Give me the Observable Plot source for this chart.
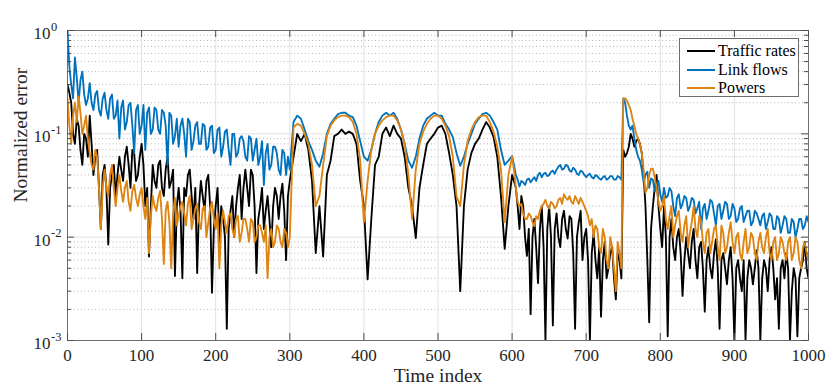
<!DOCTYPE html>
<html><head><meta charset="utf-8">
<script src="https://cdn.jsdelivr.net/npm/d3@7"></script>
<script src="https://cdn.jsdelivr.net/npm/@observablehq/plot@0.6"></script>
<style>
body{margin:0;background:#fff;}
#wrap{position:relative;width:830px;height:389px;font-family:"Liberation Serif","Tinos","Times New Roman",serif;}
#wrap svg text{font-family:"Liberation Serif","Tinos","Times New Roman",serif;}
#legend{position:absolute;left:679px;top:38px;width:120px;height:59px;border:1px solid #6e6e6e;background:#fff;box-sizing:border-box;}
.row{position:absolute;left:0;height:18px;display:flex;align-items:center;font-size:16px;color:#000;white-space:nowrap;}
.sw{display:inline-block;width:28px;height:0;border-top:2px solid;margin-left:7px;margin-right:3px;}
</style></head><body><div id="wrap"></div>
<script>
const seriesNames = ["Traffic rates", "Link flows", "Powers"];
const seriesColors = ["#000000", "#0072BD", "#DD8411"];
const timeIndex = d3.range(0, 1001, 5);
const midTimes = [...d3.range(2.5, 300, 5), ...d3.range(602.5, 1000, 5)];
const xTicks = [0, 100, 200, 300, 400, 500, 600, 700, 800, 900, 1000];
const yMajor = [0.001, 0.01, 0.1, 1];
const yExponents = ["-3", "-2", "-1", "0"];
const yMinor = [0.002,0.003,0.004,0.005,0.006,0.007,0.008,0.009,
                0.02,0.03,0.04,0.05,0.06,0.07,0.08,0.09,
                0.2,0.3,0.4,0.5,0.6,0.7,0.8,0.9];
const xLabel = "Time index";
const yLabel = "Normalized error";

// values at t = 0, 5, 10, ..., 1000
const trafficRates = [
0.3,0.2,0.08,0.12,0.05,0.09,0.15,0.04,0.07,0.012,0.05,0.0085,0.04,0.025,0.06,0.035,0.075,0.03,0.065,0.04,
0.08,0.02,0.0065,0.05,0.03,0.055,0.025,0.06,0.035,0.0042,0.03,0.004,0.025,0.045,0.015,0.0045,0.035,0.018,0.04,0.0029,
0.02,0.009,0.015,0.0013,0.018,0.01,0.03,0.015,0.045,0.02,0.04,0.0045,0.02,0.012,0.025,0.008,0.03,0.015,0.033,0.006,
0.035,0.06,0.1,0.085,0.1,0.07,0.035,0.007,0.02,0.0065,0.04,0.055,0.095,0.1,0.11,0.1,0.105,0.1,0.08,0.035,
0.02,0.0039,0.015,0.05,0.06,0.1,0.115,0.095,0.12,0.1,0.09,0.06,0.03,0.02,0.0098,0.03,0.05,0.08,0.09,0.1,
0.115,0.12,0.1,0.065,0.04,0.02,0.003,0.02,0.045,0.065,0.08,0.09,0.11,0.13,0.115,0.093,0.06,0.025,0.0077,0.02,
0.04,0.03,0.012,0.02,0.0066,0.0018,0.015,0.0036,0.02,0.001,0.02,0.0014,0.017,0.008,0.018,0.0097,0.015,0.0013,0.014,0.006,
0.012,0.001,0.011,0.004,0.0017,0.009,0.005,0.008,0.0025,0.006,0.07,0.065,0.1,0.075,0.09,0.065,0.02,0.0015,0.02,0.04,
0.012,0.02,0.0011,0.015,0.006,0.012,0.0027,0.01,0.005,0.012,0.004,0.009,0.0019,0.008,0.004,0.0095,0.0013,0.007,0.0035,0.008,
0.001,0.006,0.003,0.001,0.006,0.0035,0.0075,0.001,0.006,0.003,0.008,0.0025,0.0013,0.006,0.007,0.001,0.005,0.0011,0.005,0.009,
0.004];
// values at t = 2.5 ... 297.5 and 602.5 ... 997.5
const trafficRatesMid = [
0.25,0.1,0.14,0.07,0.1,0.06,0.08,0.06,0.03,0.04,0.03,0.03,0.05,0.04,0.045,0.06,0.05,0.07,0.035,0.06,
0.05,0.03,0.02,0.035,0.05,0.03,0.045,0.03,0.045,0.02,0.018,0.03,0.04,0.025,0.03,0.02,0.025,0.035,0.02,0.012,
0.03,0.02,0.01,0.012,0.025,0.02,0.04,0.03,0.03,0.045,0.02,0.015,0.03,0.018,0.015,0.02,0.025,0.025,0.018,0.025,
0.035,0.02,0.025,0.01,0.012,0.01,0.008,0.012,0.008,0.012,0.01,0.012,0.01,0.015,0.012,0.016,0.007,0.01,0.018,0.01,
0.006,0.007,0.006,0.008,0.006,0.004,0.007,0.004,0.007,0.004,0.06,0.075,0.09,0.085,0.08,0.04,0.006,0.012,0.03,0.02,
0.008,0.01,0.01,0.008,0.01,0.007,0.006,0.007,0.009,0.006,0.008,0.005,0.006,0.005,0.007,0.005,0.006,0.005,0.006,0.004,
0.005,0.004,0.006,0.004,0.005,0.005,0.005,0.004,0.005,0.006,0.005,0.004,0.005,0.004,0.005,0.003,0.004,0.004,0.006,0.005];

const linkFlows = [
1.0,0.3,0.55,0.2,0.4,0.19,0.31,0.17,0.26,0.15,0.25,0.14,0.24,0.15,0.09,0.21,0.13,0.2,0.065,0.19,
0.12,0.07,0.18,0.11,0.17,0.1,0.16,0.05,0.15,0.095,0.075,0.14,0.06,0.13,0.085,0.13,0.08,0.12,0.075,0.12,
0.07,0.115,0.075,0.11,0.05,0.1,0.065,0.095,0.06,0.095,0.055,0.09,0.06,0.032,0.08,0.05,0.075,0.045,0.07,0.04,
0.045,0.13,0.15,0.14,0.11,0.085,0.07,0.055,0.048,0.065,0.1,0.125,0.14,0.155,0.16,0.16,0.15,0.145,0.12,0.085,
0.06,0.055,0.07,0.1,0.13,0.15,0.16,0.15,0.16,0.14,0.11,0.08,0.055,0.047,0.06,0.09,0.12,0.14,0.15,0.16,
0.15,0.15,0.125,0.11,0.093,0.065,0.049,0.06,0.08,0.1,0.125,0.14,0.155,0.16,0.15,0.13,0.11,0.07,0.05,0.055,
0.061,0.04,0.031,0.034,0.036,0.034,0.038,0.04,0.038,0.042,0.04,0.044,0.045,0.05,0.046,0.049,0.043,0.045,0.04,0.043,
0.038,0.041,0.037,0.039,0.036,0.039,0.037,0.039,0.036,0.038,0.22,0.15,0.11,0.09,0.06,0.045,0.04,0.03,0.036,0.03,
0.026,0.03,0.025,0.028,0.016,0.026,0.021,0.024,0.02,0.023,0.019,0.012,0.021,0.018,0.022,0.013,0.021,0.018,0.021,0.016,
0.019,0.015,0.02,0.016,0.018,0.014,0.017,0.013,0.017,0.014,0.016,0.012,0.015,0.013,0.015,0.011,0.014,0.012,0.015,0.013,
0.014];
const linkFlowsMid = [
0.45,0.22,0.35,0.33,0.24,0.22,0.2,0.24,0.17,0.22,0.17,0.22,0.14,0.21,0.18,0.11,0.19,0.12,0.17,0.1,
0.19,0.16,0.1,0.18,0.11,0.17,0.12,0.16,0.08,0.14,0.12,0.1,0.14,0.07,0.12,0.08,0.125,0.07,0.115,0.065,
0.11,0.06,0.105,0.07,0.1,0.06,0.09,0.085,0.055,0.09,0.07,0.05,0.085,0.065,0.045,0.075,0.065,0.04,0.065,0.06,
0.05,0.036,0.035,0.032,0.037,0.036,0.035,0.042,0.041,0.039,0.043,0.041,0.048,0.045,0.05,0.044,0.047,0.041,0.044,0.04,
0.04,0.038,0.04,0.037,0.038,0.036,0.039,0.036,0.039,0.036,0.2,0.12,0.12,0.07,0.055,0.034,0.043,0.037,0.028,0.035,
0.022,0.024,0.03,0.02,0.024,0.019,0.025,0.018,0.024,0.017,0.022,0.019,0.015,0.023,0.017,0.02,0.015,0.022,0.015,0.021,
0.014,0.019,0.014,0.018,0.013,0.018,0.015,0.016,0.012,0.017,0.012,0.016,0.011,0.016,0.011,0.015,0.01,0.015,0.012,0.016];

const powers = [
0.22,0.08,0.2,0.23,0.1,0.15,0.065,0.045,0.06,0.012,0.045,0.025,0.05,0.02,0.04,0.022,0.035,0.018,0.032,0.02,
0.03,0.015,0.007,0.025,0.018,0.028,0.0055,0.022,0.005,0.024,0.016,0.022,0.013,0.025,0.015,0.021,0.012,0.02,0.014,0.022,
0.012,0.005,0.018,0.011,0.017,0.01,0.016,0.011,0.015,0.009,0.014,0.01,0.013,0.009,0.004,0.012,0.009,0.012,0.008,0.011,
0.01,0.115,0.125,0.12,0.1,0.08,0.05,0.02,0.025,0.05,0.095,0.12,0.135,0.145,0.15,0.15,0.145,0.13,0.1,0.055,
0.014,0.035,0.07,0.1,0.12,0.135,0.145,0.15,0.15,0.135,0.11,0.08,0.04,0.015,0.045,0.08,0.105,0.125,0.14,0.15,
0.15,0.14,0.12,0.095,0.06,0.025,0.02,0.05,0.085,0.11,0.13,0.145,0.15,0.15,0.13,0.105,0.075,0.045,0.014,0.04,
0.06,0.03,0.02,0.017,0.015,0.016,0.0128,0.015,0.02,0.023,0.019,0.021,0.02,0.024,0.026,0.023,0.022,0.025,0.021,0.022,
0.018,0.013,0.01,0.012,0.007,0.01,0.005,0.008,0.003,0.007,0.22,0.21,0.17,0.12,0.09,0.065,0.027,0.04,0.046,0.03,
0.018,0.025,0.012,0.02,0.013,0.018,0.009,0.016,0.011,0.02,0.01,0.014,0.007,0.012,0.009,0.013,0.006,0.011,0.008,0.014,
0.007,0.011,0.006,0.012,0.008,0.01,0.006,0.011,0.007,0.012,0.006,0.01,0.007,0.009,0.006,0.01,0.007,0.009,0.005,0.009,
0.006];
const powersMid = [
0.12,0.15,0.13,0.16,0.12,0.09,0.05,0.07,0.03,0.03,0.03,0.04,0.03,0.03,0.028,0.03,0.022,0.028,0.024,0.026,
0.02,0.024,0.016,0.02,0.024,0.015,0.018,0.014,0.017,0.013,0.02,0.017,0.021,0.012,0.019,0.014,0.019,0.01,0.019,0.015,
0.017,0.013,0.014,0.016,0.012,0.015,0.009,0.015,0.012,0.015,0.009,0.013,0.011,0.013,0.01,0.008,0.013,0.009,0.012,0.008,
0.045,0.022,0.021,0.015,0.017,0.014,0.016,0.018,0.021,0.02,0.022,0.019,0.023,0.021,0.024,0.025,0.021,0.023,0.024,0.02,
0.016,0.015,0.013,0.008,0.012,0.006,0.01,0.005,0.009,0.005,0.22,0.19,0.14,0.1,0.08,0.045,0.03,0.046,0.038,0.022,
0.02,0.015,0.016,0.01,0.016,0.011,0.013,0.008,0.014,0.012,0.016,0.009,0.011,0.007,0.012,0.008,0.013,0.007,0.011,0.009,
0.01,0.007,0.009,0.007,0.011,0.007,0.009,0.008,0.01,0.007,0.009,0.006,0.01,0.007,0.009,0.006,0.01,0.006,0.008,0.007];

const seriesValues = [trafficRates, linkFlows, powers];
const seriesMids = [trafficRatesMid, linkFlowsMid, powersMid];

const W = 830, H = 389, mL = 67, mR = 22, mT = 30, mB = 49;
const innerW = W - mL - mR, innerH = H - mT - mB;

const lineMarks = seriesNames.map((name, k) => {
  const pts = [
    ...timeIndex.map((t, i) => ({t, v: seriesValues[k][i]})),
    ...midTimes.map((t, i) => ({t, v: seriesMids[k][i]}))
  ].filter(d => d.v != null).sort((a, b) => a.t - b.t);
  return Plot.line(pts, {x: "t", y: "v", stroke: seriesColors[k], strokeWidth: 1.85, strokeLinejoin: "round", clip: true});
});

const yLabelData = yMajor.map((v, i) => ({v, e: yExponents[i]}));
const tickColor = "#4d4d4d";
const font = "'Liberation Serif', Tinos, 'Times New Roman', serif";

const chart = Plot.plot({
  width: W, height: H,
  marginLeft: mL, marginRight: mR, marginTop: mT, marginBottom: mB,
  style: {fontFamily: font, background: "white", color: "#262626"},
  x: {domain: [0, 1000], axis: null},
  y: {type: "log", domain: [0.001, 1], axis: null},
  marks: [
    Plot.ruleY(yMinor, {stroke: "#b8b8b8", strokeDasharray: "1,2.5"}),
    Plot.ruleY(yMajor, {stroke: "#e2e2e2"}),
    Plot.ruleX(xTicks, {stroke: "#e2e2e2"}),
    ...lineMarks,
    Plot.frame({stroke: "#6e6e6e"}),
    Plot.tickY(yMajor, {insetRight: innerW - 7, stroke: tickColor}),
    Plot.tickY(yMajor, {insetLeft: innerW - 7, stroke: tickColor}),
    Plot.tickY(yMinor, {insetRight: innerW - 4, stroke: tickColor}),
    Plot.tickY(yMinor, {insetLeft: innerW - 4, stroke: tickColor}),
    Plot.tickX(xTicks, {insetTop: innerH - 7, stroke: tickColor}),
    Plot.tickX(xTicks, {insetBottom: innerH - 7, stroke: tickColor}),
    Plot.text(yLabelData, {y: "v", text: () => "10", frameAnchor: "left", textAnchor: "end", dx: -17, dy: 3, fontSize: 17, fill: "#262626"}),
    Plot.text(yLabelData, {y: "v", text: "e", frameAnchor: "left", textAnchor: "start", dx: -16.5, dy: -4, fontSize: 12.5, fill: "#262626"}),
    Plot.text(xTicks, {x: d => d, text: d => String(d), frameAnchor: "bottom", lineAnchor: "top", dy: 8, fontSize: 17, fill: "#262626"}),
    Plot.text([xLabel], {text: d => d, frameAnchor: "bottom", dy: 41, fontSize: 19.5, fill: "#262626"}),
    Plot.text([yLabel], {text: d => d, frameAnchor: "left", rotate: -90, dx: -47, dy: 17, fontSize: 19.5, fill: "#262626"})
  ]
});

const wrap = document.getElementById("wrap");
wrap.appendChild(chart);

const legend = document.createElement("div");
legend.id = "legend";
const rowTops = [3, 21.5, 40];
seriesNames.forEach((name, k) => {
  const row = document.createElement("div");
  row.className = "row";
  row.style.top = rowTops[k] + "px";
  const sw = document.createElement("span");
  sw.className = "sw";
  sw.style.borderTopColor = seriesColors[k];
  const label = document.createElement("span");
  label.textContent = name;
  row.appendChild(sw);
  row.appendChild(label);
  legend.appendChild(row);
});
wrap.appendChild(legend);
</script>
</body></html>
